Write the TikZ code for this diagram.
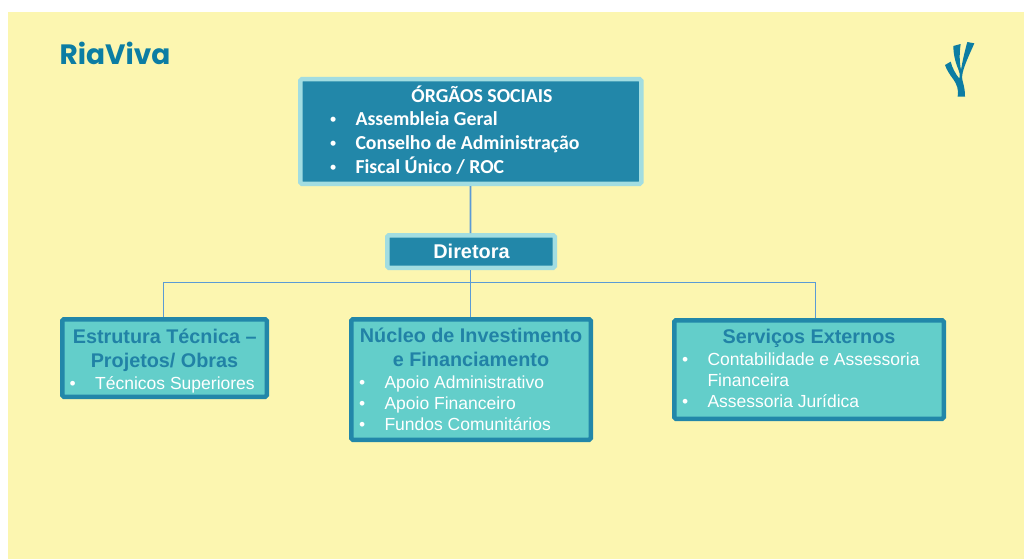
\documentclass[tikz,border=0pt]{standalone}
\usepackage{fontspec}
\setmainfont{Liberation Sans}
\newfontfamily\calfont{Carlito}
\newfontfamily\logofont{Poppins}
\definecolor{paper}{HTML}{FCF6B0}
\definecolor{deepteal}{HTML}{2287A9}
\definecolor{paleteal}{HTML}{A2DDE1}
\definecolor{midteal}{HTML}{63CECA}
\definecolor{headteal}{HTML}{2182A6}
\definecolor{logoblue}{HTML}{0C7DA3}
\definecolor{linkblue}{HTML}{5B9BD5}
\tikzset{
  box/.style={rectangle,rounded corners=1.5pt,line width=4.5pt,inner sep=0pt,anchor=north west},
  topbox/.style={box,draw=paleteal,fill=deepteal},
  lowbox/.style={box,draw=deepteal,fill=midteal},
  link/.style={draw=linkblue,line width=1.8pt},
  line/.style={inner sep=0pt,anchor=base west,text=white},
  midline/.style={inner sep=0pt,anchor=base,text=headteal,font=\fontsize{19.8}{20}\selectfont\bfseries},
  item/.style={line,font=\fontsize{17.5}{20}\selectfont},
  topitem/.style={line,font=\fontsize{19.8}{20}\selectfont\calfont\bfseries},
  topdot/.style={line,font=\fontsize{17.6}{20}\selectfont\bfseries},
}
\begin{document}
\begin{tikzpicture}[x=1pt,y=-1pt]
\useasboundingbox (0,0) rectangle (1024,559);
\fill[white] (0,0) rectangle (1024,559);
\fill[paper] (8,12) rectangle (1024,559);
% boxes
\node[topbox,minimum width=341pt,minimum height=104.5pt] (org) at (298,77) {};
\node[topbox,minimum width=167.5pt,minimum height=32.5pt] (dir) at (385,233) {};
\node[lowbox,minimum width=204.5pt,minimum height=77.5pt] (tec) at (60,317) {};
\node[lowbox,minimum width=239.5pt,minimum height=120.5pt] (nuc) at (349,317) {};
\node[lowbox,minimum width=269.5pt,minimum height=98.5pt] (ser) at (672,318) {};
% connectors
\coordinate (hub) at (470.5,282.5);
\path[link] ([xshift=-0.3pt]org.south) -- ([xshift=-0.5pt]dir.north);
\path[link] ([xshift=-0.5pt]dir.south) -- ([xshift=-0.5pt]nuc.north);
\path[link] ([xshift=-1pt]tec.north) |- (hub) -| ([xshift=6.5pt]ser.north);
% top box text
\node[inner sep=0pt,anchor=base,text=white,font=\fontsize{19.8}{20}\selectfont\calfont\bfseries] (orgt) at (482,102.2) {ÓRGÃOS SOCIAIS};
\node[topdot] (b1) at (330,125.8) {•};
\node[topdot] (b2) at (330,149.8) {•};
\node[topdot] (b3) at (330,173.8) {•};
\node[topitem] (t1) at (355.3,125.8) {Assembleia Geral};
\node[topitem] (t2) at (355.3,149.8) {Conselho de Administração};
\node[topitem] (t3) at (355.3,173.8) {Fiscal Único / ROC};
\node[inner sep=0pt,anchor=base,text=white,font=\fontsize{19.9}{20}\selectfont\bfseries] (dirt) at (471.5,258.6) {Diretora};
% left
\node[midline] (l1) at (164.7,343) {Estrutura Técnica –};
\node[midline] (l2) at (164.5,367) {Projetos/ Obras};
\node[item] (lb) at (69.5,389.3) {•};
\node[item] (li) at (95,389.3) {Técnicos Superiores};
% middle
\node[midline] (m1) at (471,342.3) {Núcleo de Investimento};
\node[midline] (m2) at (471,366.3) {e Financiamento};
\node[item] (mb1) at (359,388.6) {•};
\node[item] (mb2) at (359,409.3) {•};
\node[item] (mb3) at (359,430.6) {•};
\node[item] (mi1) at (384.3,388.6) {Apoio Administrativo};
\node[item] (mi2) at (384.3,409.3) {Apoio Financeiro};
\node[item] (mi3) at (384.3,430.6) {Fundos Comunitários};
% right
\node[midline] (r1) at (809,343) {Serviços Externos};
\node[item] (rb1) at (682,365.3) {•};
\node[item] (rb2) at (682,407.3) {•};
\node[item] (ri1) at (707.3,365.3) {Contabilidade e Assessoria};
\node[item] (ri2) at (707.3,386) {Financeira};
\node[item] (ri3) at (707.3,407.3) {Assessoria Jurídica};
% logo
\node[inner sep=0pt,anchor=base west,text=logoblue,font=\fontsize{28}{30}\selectfont\logofont\bfseries] (logo) at (59.5,64.5) {RiaViva};
\begin{scope}[shift={(920,20)},x=0.3333pt,y=-0.3333pt]
\fill[logoblue] (113,230) .. controls (117,210) and (110,192) .. (100,178)
  .. controls (90,165) and (80,150) .. (75,135) -- (92,125)
  .. controls (97,145) and (107,162) .. (118,176)
  .. controls (120,165) and (119,155) .. (115,148)
  .. controls (105,125) and (100,100) .. (100,78) -- (122,72)
  .. controls (118,100) and (118,125) .. (123,150)
  .. controls (128,120) and (135,90) .. (142,66) -- (163,70)
  .. controls (150,100) and (135,130) .. (128,158)
  .. controls (124,175) and (128,185) .. (131,195)
  .. controls (134,207) and (135,220) .. (135,230) -- cycle;
\end{scope}
\end{tikzpicture}
\end{document}
